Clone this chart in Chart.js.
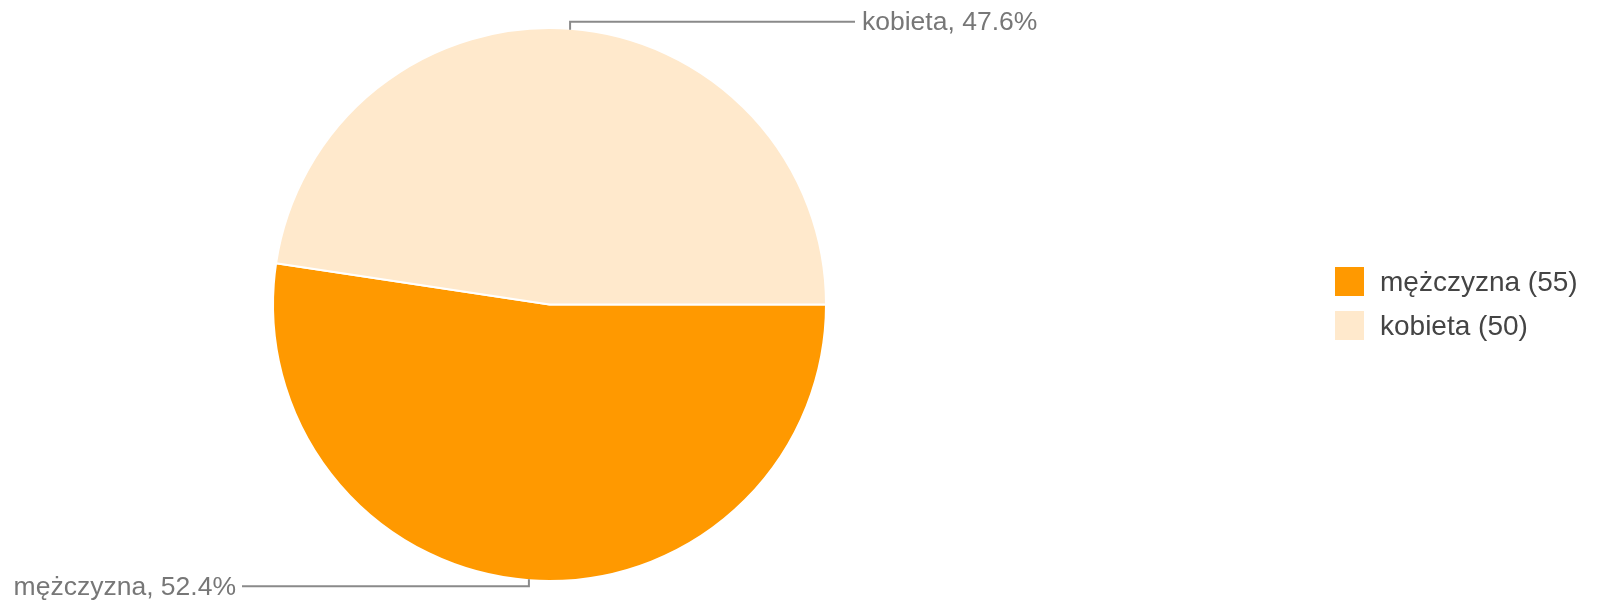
<!DOCTYPE html>
<html lang="pl">
<head>
<meta charset="utf-8">
<title>Płeć</title>
<script src="https://cdn.jsdelivr.net/npm/chart.js@4/dist/chart.umd.min.js"></script>
<style>
  html, body { margin: 0; padding: 0; background: #fff; }
  body { width: 1604px; height: 606px; position: relative; overflow: hidden;
         font-family: "Liberation Sans", Arial, sans-serif; }
  #wrap { position: absolute; left: 0; top: 0; width: 1604px; height: 606px; }
  #legend { position: absolute; left: 1335px; top: 267px; }
  .lg-row { display: flex; align-items: center; height: 29px; margin-bottom: 15px; }
  .lg-box { width: 29px; height: 29px; margin-right: 16px; }
  .lg-text { font-size: 28px; color: #444; white-space: nowrap; }
</style>
</head>
<body>
<div id="wrap"><canvas id="pieChart"></canvas></div>
<div id="legend"></div>

<script>
/* ─── Data ─── */
const categories = ['mężczyzna', 'kobieta'];
const counts = [55, 50];
const colors = ['#ff9900', '#ffe9cc'];

const total = counts.reduce((a, b) => a + b, 0);
const percents = counts.map(v => (v / total * 100).toFixed(1) + '%');

/* ─── Legend ─── */
const legend = document.getElementById('legend');
categories.forEach((name, i) => {
  const row = document.createElement('div');
  row.className = 'lg-row';
  row.innerHTML = '<div class="lg-box" style="background:' + colors[i] + '"></div>' +
                  '<span class="lg-text">' + name + ' (' + counts[i] + ')</span>';
  legend.appendChild(row);
});

/* ─── Leader-line labels ─── */
const leaderLabels = {
  id: 'leaderLabels',
  afterDatasetsDraw(chart) {
    const ctx = chart.ctx;
    const arcs = chart.getDatasetMeta(0).data;
    ctx.save();
    ctx.font = '26.5px "Liberation Sans", Arial, sans-serif';
    ctx.textBaseline = 'middle';
    arcs.forEach((arc, i) => {
      const p = arc.getProps(['x', 'y', 'startAngle', 'endAngle', 'outerRadius'], true);
      const mid = (p.startAngle + p.endAngle) / 2;
      const r = p.outerRadius - 1;
      const px = p.x + Math.cos(mid) * r;
      const py = p.y + Math.sin(mid) * r;
      const ey = Math.sin(mid) < 0 ? py - 8 : py + 7;
      const right = Math.cos(mid) >= 0;
      const lineEnd = right ? p.x + p.outerRadius + 29 : p.x - p.outerRadius - 31;
      const text = categories[i] + ', ' + percents[i];

      ctx.strokeStyle = '#8a8a8a';
      ctx.lineWidth = 2;
      ctx.beginPath();
      ctx.moveTo(px, py);
      ctx.lineTo(px, ey);
      ctx.lineTo(lineEnd, ey);
      ctx.stroke();

      ctx.fillStyle = '#777';
      ctx.textAlign = right ? 'left' : 'right';
      ctx.fillText(text, right ? lineEnd + 7 : lineEnd - 6, ey + 1);
    });
    ctx.restore();
  }
};

/* ─── Pie ─── */
document.addEventListener('DOMContentLoaded', function () {
  const ctx = document.getElementById('pieChart').getContext('2d');
  new Chart(ctx, {
    type: 'pie',
    data: {
      labels: categories,
      datasets: [{
        data: counts,
        backgroundColor: colors,
        borderColor: '#fff',
        borderWidth: 2,
        hoverOffset: 0
      }]
    },
    options: {
      responsive: true,
      maintainAspectRatio: false,
      animation: false,
      rotation: 90,
      layout: { padding: { top: 27, bottom: 24, left: 272, right: 777 } },
      plugins: {
        legend: { display: false },
        tooltip: { enabled: false }
      }
    },
    plugins: [leaderLabels]
  });
});
</script>
</body>
</html>
